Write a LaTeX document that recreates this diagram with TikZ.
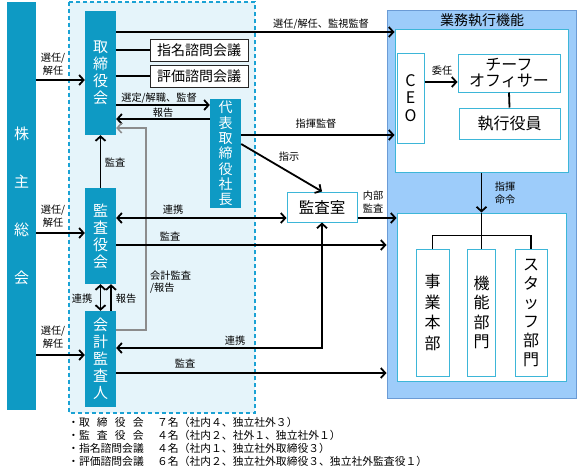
\documentclass[tikz,border=0pt]{standalone}
\usepackage{fontspec}
\setmainfont{Noto Sans CJK JP}
\usetikzlibrary{arrows.meta}
\definecolor{teal1}{HTML}{0E9AC4}
\definecolor{regfill}{HTML}{E5F4FA}
\definecolor{regdash}{HTML}{1AA2D4}
\definecolor{bigfill}{HTML}{9DCCFA}
\definecolor{bigline}{HTML}{6B9BD5}
\definecolor{lbline}{HTML}{3DB6D8}
\definecolor{grayarr}{HTML}{8C8C8C}
\tikzset{
  tealbox/.style={fill=teal1, draw=none, text=white, align=center, inner sep=0, font=\fontsize{15}{17}\selectfont},
  wbox/.style={fill=white, draw=lbline, line width=1pt, inner sep=0, align=center},
  dbox/.style={fill=white, draw=black!85, line width=1pt, inner sep=0, align=center, font=\fontsize{14}{16}\selectfont},
  lbl/.style={font=\fontsize{10.2}{12.5}\selectfont, inner sep=0, align=center},
  tipb/.tip={Straight Barb[length=4.5pt,width=10pt]},
  arr/.style={line width=1.8pt, -tipb},
  darr/.style={line width=1.8pt, tipb-tipb},
  ln/.style={line width=1.8pt},
}
\begin{document}
\begin{tikzpicture}[x=1pt,y=-1pt]
\useasboundingbox (0,0) rectangle (577,472);
% dashed region
\draw[fill=regfill, draw=regdash, line width=1.5pt, dash pattern=on 4pt off 3pt] (69,2) rectangle (255,413);
% executive block
\node[draw=bigline, fill=bigfill, line width=1pt, minimum width=189, minimum height=388, inner sep=0] (exec) at (481.5,204) {};
\node[font=\fontsize{14}{16}\selectfont, inner sep=0] (title) at (482,20) {業務執行機能};
\node[wbox, minimum width=173, minimum height=143] (upper) at (481.5,100.5) {};
\node[wbox, minimum width=27, minimum height=90, font=\fontsize{16}{17.5}\selectfont] (ceo) at (410.5,98) {C\\E\\O};
\node[wbox, minimum width=102, minimum height=38, font=\fontsize{16}{16}\selectfont] (chief) at (509,73) {チーフ\\オフィサー};
\node[wbox, minimum width=101, minimum height=31, font=\fontsize{16}{18}\selectfont] (shikko) at (509.5,123.5) {執行役員};
\node[wbox, minimum width=169, minimum height=168] (lower) at (481.5,297) {};
\node[wbox, minimum width=33, minimum height=127, font=\fontsize{16}{20.5}\selectfont] (jigyo) at (432.5,312.5) {事\\業\\本\\部};
\node[wbox, minimum width=28, minimum height=127, font=\fontsize{16}{19.5}\selectfont] (kino) at (481.5,312.5) {機\\能\\部\\門};
\node[wbox, minimum width=32, minimum height=127, font=\fontsize{16}{19}\selectfont] (staff) at (531,312.5) {ス\\タ\\ッ\\フ\\部\\門};
% left side
\node[tealbox, minimum width=29, minimum height=408, font=\fontsize{15}{48}\selectfont] (kabu) at (21.5,206) {株\\主\\総\\会};
\node[tealbox, minimum width=31, minimum height=124] (tori) at (100.5,73) {取\\締\\役\\会};
\node[dbox, minimum width=98, minimum height=22] (shimei) at (199,50) {指名諮問会議};
\node[dbox, minimum width=98, minimum height=22] (hyoka) at (199,76) {評価諮問会議};
\node[tealbox, minimum width=31, minimum height=109, font=\fontsize{14}{15.3}\selectfont] (daihyo) at (225.5,153.5) {代\\表\\取\\締\\役\\社\\長};
\node[tealbox, minimum width=31, minimum height=96] (kansayaku) at (100.5,236) {監\\査\\役\\会};
\node[tealbox, minimum width=31, minimum height=96] (kaikei) at (100.5,359) {会\\計\\監\\査\\人};
\node[wbox, minimum width=70, minimum height=30, font=\fontsize{15.5}{18}\selectfont] (shitsu) at (322,207) {監査室};
\coordinate (gcorner) at (146,128);
% connectors
\draw[arr] (tori.east |- 0,32) -- (upper.west |- 0,32);
\node[lbl] (l1) at (321,24) {選任/解任、監視監督};
\draw[ln] (tori.east |- shimei) -- (shimei.west);
\draw[ln] (tori.east |- hyoka) -- (hyoka.west);
\draw[arr] (kabu.east |- 0,80) -- (tori.west |- 0,80);
\node[lbl] (l2) at (53,64) {選任/\\解任};
\draw[arr] (kabu.east |- 0,233) -- (kansayaku.west |- 0,233);
\node[lbl] (l3) at (53,216) {選任/\\解任};
\draw[arr] (kabu.east |- 0,355) -- (kaikei.west |- 0,355);
\node[lbl] (l4) at (53,337) {選任/\\解任};
\draw[arr] (tori.east |- 0,105) -- (daihyo.west |- 0,105);
\node[lbl] (l5) at (159,98) {選定/解職、監督};
\draw[arr] (daihyo.west |- 0,119) -- (tori.east |- 0,119);
\node[lbl] (l6) at (163,113) {報告};
\draw[arr, draw=grayarr, line width=1.5pt] (kaikei.east |- 0,330) -| (gcorner) -- (tori.east |- gcorner);
\node[lbl, align=left, anchor=west] (l7) at (150,282) {会計監査\\/報告};
\draw[arr] (kansayaku.north) -- (tori.south);
\node[lbl] (l8) at (115,163) {監査};
\draw[arr] (daihyo.east |- 0,135) -- (upper.west |- 0,135);
\node[lbl] (l9) at (316,124) {指揮監督};
\draw[arr] (daihyo.east |- 0,144) -- (shitsu.north);
\node[lbl] (l10) at (289,157) {指示};
\draw[arr] (ceo.east |- 0,82) -- (chief.west |- 0,82);
\node[lbl] (l11) at (442,71) {委任};
\draw[ln] (chief.south) -- (shikko.north);
\draw[arr] (upper.south) -- (lower.north);
\node[lbl] (l12) at (505,193) {指揮\\命令};
\draw[ln] (lower.north) -- (kino.north);
\draw[ln] (jigyo.north) -- ++(0,-13) -| (staff.north);
\draw[arr] (shitsu.east |- 0,218) -- (lower.west |- 0,218);
\node[lbl] (l13) at (373,202) {内部\\監査};
\draw[darr] (kansayaku.east |- 0,218) -- (shitsu.west |- 0,218);
\node[lbl] (l14) at (173,210) {連携};
\draw[arr] (kansayaku.east |- 0,245) -- (exec.west |- 0,245);
\node[lbl] (l15) at (170,237) {監査};
\draw[darr] (kaikei.east |- 0,348) -| (shitsu.south);
\node[lbl] (l16) at (235,341) {連携};
\draw[arr] (kaikei.east |- 0,373) -- (exec.west |- 0,373);
\node[lbl] (l17) at (185,364) {監査};
\draw[darr] (kaikei.north) -- (kansayaku.south);
\draw[arr] ([xshift=10.5pt]kaikei.north) -- ([xshift=10.5pt]kansayaku.south);
\node[lbl] (l18) at (82,299) {連携};
\node[lbl] (l19) at (126,299) {報告};
% footer
\node[font=\fontsize{10.8}{13}\selectfont, inner sep=0, align=left, anchor=north west] (foot) at (68,417)
{\makebox[89pt][l]{・\makebox[64.8pt][s]{取\hfill 締\hfill 役\hfill 会}}７名（社内４、独立社外３）\\
 \makebox[89pt][l]{・\makebox[64.8pt][s]{監\hfill 査\hfill 役\hfill 会}}４名（社内２、社外１、独立社外１）\\
 \makebox[89pt][l]{・指名諮問会議}４名（社内１、独立社外取締役３）\\
 \makebox[89pt][l]{・評価諮問会議}６名（社内２、独立社外取締役３、独立社外監査役１）};
\end{tikzpicture}
\end{document}
